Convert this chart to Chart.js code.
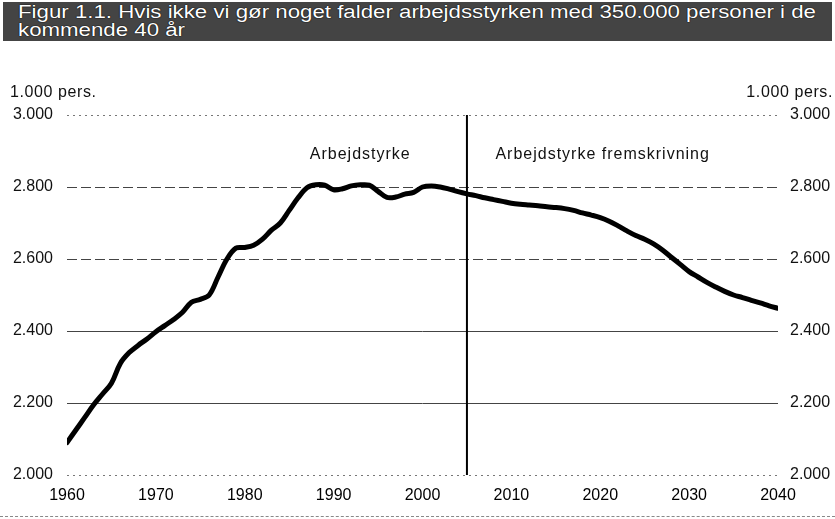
<!DOCTYPE html>
<html><head><meta charset="utf-8">
<script src="https://cdn.jsdelivr.net/npm/chart.js@4"></script>
<style>
html,body{margin:0;padding:0;background:#fff;width:835px;height:519px;overflow:hidden;font-family:"Liberation Sans",Arial,sans-serif;}
#wrap{position:relative;width:835px;height:519px;}
#title{position:absolute;left:3px;top:2px;width:829px;height:39px;background:#444;color:#fff;
 font-family:"Liberation Sans",Arial,sans-serif;font-size:18px;line-height:18px;box-sizing:border-box;overflow:hidden;}
#title div{position:absolute;left:15px;white-space:nowrap;transform-origin:0 0;text-shadow:0 0 1px #000,0 0 1px #000;}
.unit{position:absolute;top:83px;font-size:16px;color:#111;white-space:nowrap;letter-spacing:0.6px;}
#bottomline{position:absolute;left:0;top:516px;width:835px;height:0;border-top:1px dashed #888;}
canvas{position:absolute;left:0;top:0;}
</style></head>
<body><div id="wrap">
<canvas id="c" width="835" height="519"></canvas>
<div id="title"><div id="t1" style="top:1px">Figur 1.1. Hvis ikke vi gør noget falder arbejdsstyrken med 350.000 personer i de</div><div id="t2" style="top:19px">kommende 40 år</div></div>
<div class="unit" style="left:10px">1.000 pers.</div>
<div class="unit" style="right:2px">1.000 pers.</div>
<div id="bottomline"></div>
</div>
<script>
const years = [1960,1961,1962,1963,1964,1965,1966,1967,1968,1969,1970,1971,1972,1973,1974,1975,1976,1977,1978,1979,1980,1981,1982,1983,1984,1985,1986,1987,1988,1989,1990,1991,1992,1993,1994,1995,1996,1997,1998,1999,2000,2001,2002,2003,2004,2005,2006,2007,2008,2009,2010,2011,2012,2013,2014,2015,2016,2017,2018,2019,2020,2021,2022,2023,2024,2025,2026,2027,2028,2029,2030,2031,2032,2033,2034,2035,2036,2037,2038,2039,2040];
const arbejdsstyrke = [2090,2125,2160,2195,2225,2255,2310,2340,2360,2378,2398,2415,2432,2452,2480,2488,2500,2550,2600,2630,2632,2638,2655,2680,2700,2735,2770,2798,2806,2805,2792,2795,2803,2806,2805,2788,2771,2772,2780,2785,2800,2803,2800,2794,2787,2781,2776,2770,2765,2760,2755,2752,2750,2748,2745,2743,2740,2735,2728,2722,2715,2705,2692,2678,2665,2655,2642,2625,2605,2585,2565,2550,2535,2522,2510,2500,2493,2485,2478,2470,2463];
const splitYear = 2005;
const xTicks = [1960,1970,1980,1990,2000,2010,2020,2030,2040];
const yTicks = [2000,2200,2400,2600,2800,3000];
const labels = [{text:"Arbejdstyrke", x:1993, y:2890, align:"center"},{text:"Arbejdstyrke fremskrivning", x:2008.2, y:2890, align:"left"}];

// stretch/compress title lines to the width used in the original
(function(){
  const t1=document.getElementById('t1'), t2=document.getElementById('t2');
  const w=t1.getBoundingClientRect().width;
  const s=798/w;
  t1.style.transform='scaleX('+s+')';
  t2.style.transform='scaleX('+s+')';
})();

const fmt = v => (v/1000).toFixed(3);
const gridDash = v => (v===2200||v===2400) ? [] : (v===2000||v===3000 ? [2,4] : [10,4]);
const gridColor = v => (v===2000||v===3000) ? '#777' : '#444';
const FONT = '"Liberation Sans", Arial, sans-serif';

const annot = {
  id:'annot',
  afterDatasetsDraw(chart){
    const {ctx, scales:{x,y}} = chart;
    ctx.save();
    ctx.fillStyle='#111';
    ctx.font='16px '+FONT;
    ctx.letterSpacing='1px';
    ctx.textBaseline='middle';
    labels.forEach(l=>{
      ctx.textAlign=l.align;
      ctx.fillText(l.text, x.getPixelForValue(l.x), y.getPixelForValue(l.y));
    });
    ctx.restore();
  }
};

new Chart(document.getElementById('c'),{
  type:'line',
  data:{datasets:[
    {data:years.map((yr,i)=>({x:yr,y:arbejdsstyrke[i]})),borderColor:'#000',borderWidth:5,pointRadius:0,tension:0.35,borderCapStyle:'round',borderJoinStyle:'round'},
    {data:[{x:splitYear,y:2000},{x:splitYear,y:3000}],borderColor:'#000',borderWidth:2,pointRadius:0}
  ]},
  options:{
    responsive:false,animation:false,
    layout:{padding:{top:115,left:0,right:0,bottom:0}},
    plugins:{legend:{display:false},tooltip:{enabled:false}},
    scales:{
      x:{type:'linear',min:1960,max:2040,
        afterBuildTicks(s){s.ticks=xTicks.map(v=>({value:v}));},
        afterFit(s){s.height=44;},
        grid:{display:false,drawTicks:false},border:{display:false},
        ticks:{padding:11,color:'#000',font:{size:16,family:FONT},callback:v=>String(v),maxRotation:0}
      },
      y:{position:'left',min:2000,max:3000,
        afterBuildTicks(s){s.ticks=yTicks.map(v=>({value:v}));},
        afterFit(s){s.width=67;},
        grid:{drawTicks:false,color:c=>gridColor(c.tick.value),lineWidth:1},
        border:{display:false,dash:c=>gridDash(c.tick.value)},
        ticks:{padding:14,color:'#111',font:{size:16,family:FONT},callback:fmt}
      },
      y2:{position:'right',min:2000,max:3000,
        afterBuildTicks(s){s.ticks=yTicks.map(v=>({value:v}));},
        afterFit(s){s.width=57;},
        grid:{display:false,drawTicks:false},border:{display:false},
        ticks:{padding:12,color:'#111',font:{size:16,family:FONT},callback:fmt}
      }
    }
  },
  plugins:[annot]
});
</script>
</body></html>
